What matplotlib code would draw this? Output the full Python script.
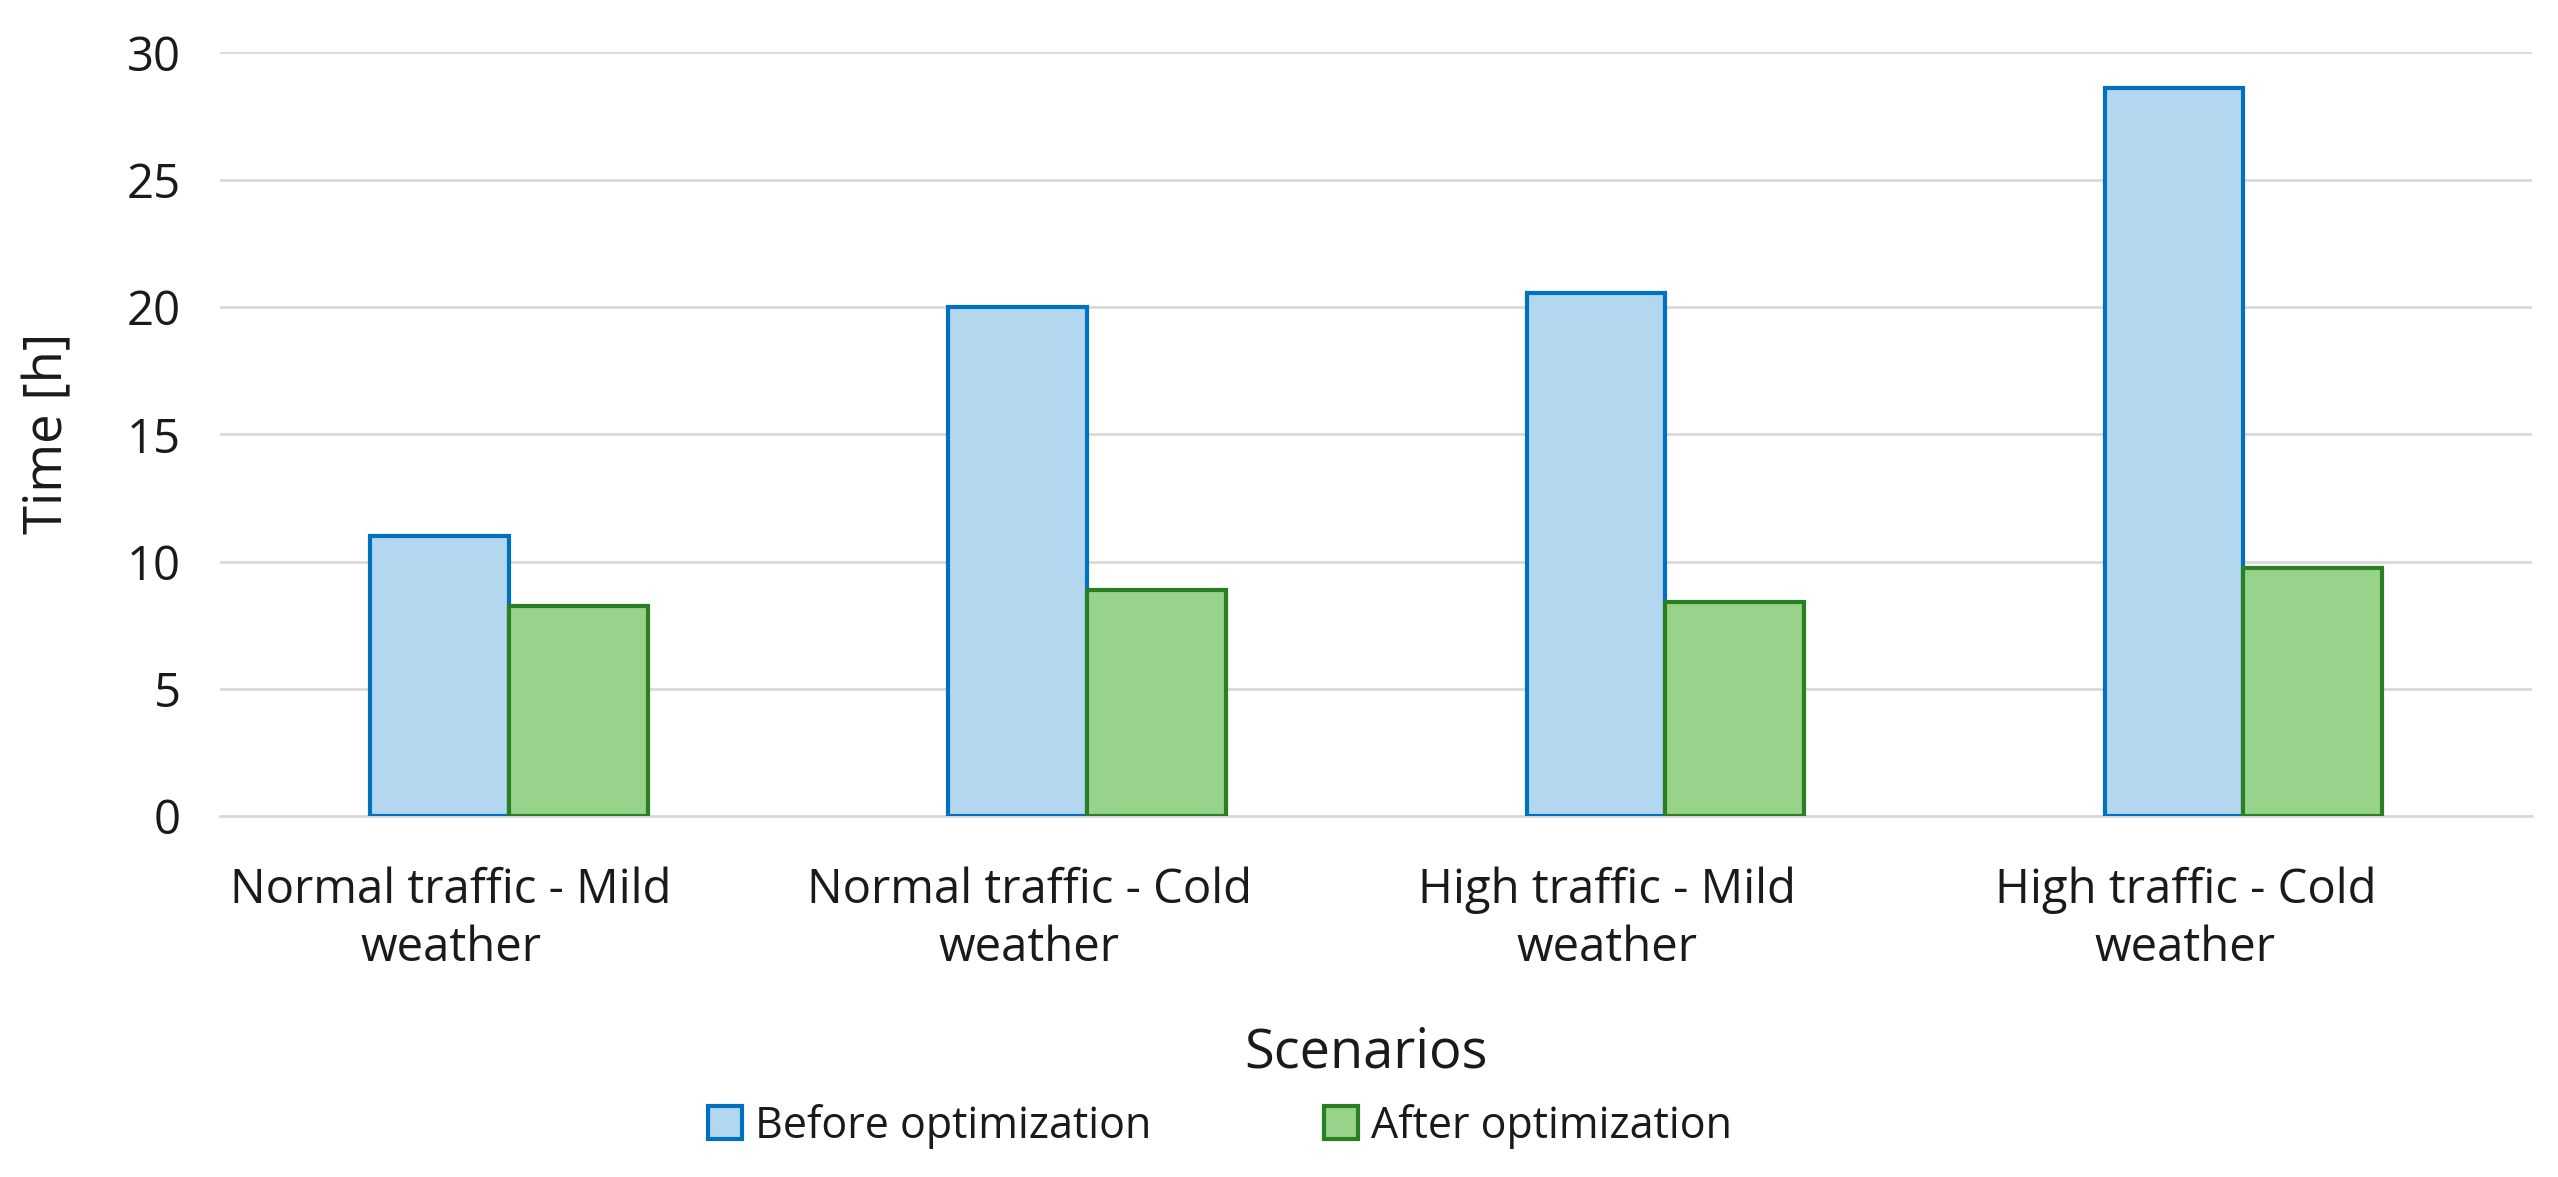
import matplotlib
matplotlib.use("Agg")
import matplotlib.pyplot as plt
import matplotlib.transforms as mtransforms
import numpy as np

categories = ["Normal traffic - Mild\nweather", "Normal traffic - Cold\nweather",
              "High traffic - Mild\nweather", "High traffic - Cold\nweather"]
before = [11.0, 20.0, 20.55, 28.6]
after = [8.25, 8.9, 8.4, 9.75]
series_names = ["Before optimization", "After optimization"]
yticks = [0, 5, 10, 15, 20, 25, 30]

plt.rcParams['font.family'] = ['Open Sans', 'DejaVu Sans']
tc = '#1a1a1a'

fig = plt.figure(figsize=(25.58, 11.77), dpi=100)
ax = fig.add_axes([0.086, 0.3065, 0.904, 0.649])

x = np.arange(len(categories))
w = 0.24
ax.bar(x - w/2, before, w, color='#b4d7f0', edgecolor='#0070c0', linewidth=3,
       label=series_names[0], zorder=3)
ax.bar(x + w/2, after, w, color='#97d38b', edgecolor='#2a7f23', linewidth=3,
       label=series_names[1], zorder=3)

ax.set_xlim(-0.5, len(categories) - 0.5)
ax.set_ylim(0, 30)
ax.set_yticks(yticks)
ax.set_yticklabels([str(t) for t in yticks], fontsize=34, color=tc)
ax.set_xticks(x)
ax.set_xticklabels(categories, fontsize=34, color=tc, linespacing=1.3)
ax.tick_params(axis='x', length=0, pad=36)
ax.tick_params(axis='y', length=0, pad=28)
shift = mtransforms.ScaledTranslation(-0.58, 0, fig.dpi_scale_trans)
for lbl in ax.get_xticklabels():
    lbl.set_transform(lbl.get_transform() + shift)
ax.grid(axis='y', color='#d9d9d9', linewidth=2, zorder=0)
for s in ['top', 'right', 'left']:
    ax.spines[s].set_visible(False)
ax.spines['bottom'].set_color('#d9d9d9')
ax.spines['bottom'].set_linewidth(2)

fig.text(0.019, 0.6315, "Time [h]", rotation=90, fontsize=38, ha='center', va='center', color=tc)
fig.text(0.534, 0.105, "Scenarios", fontsize=39, ha='center', va='center', color=tc)

fig.legend(loc='center', bbox_to_anchor=(0.477, 0.043), ncol=2, frameon=False,
           fontsize=31, handlelength=0.8, handleheight=0.8, handletextpad=0.3,
           columnspacing=4.0, labelcolor=tc)

fig.savefig("out.png", dpi=100, facecolor='white')
